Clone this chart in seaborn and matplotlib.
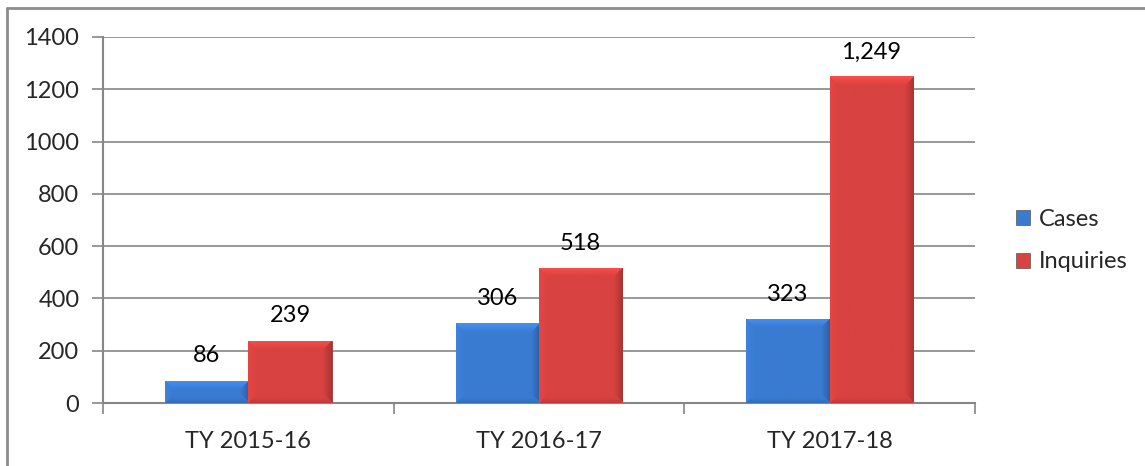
import numpy as np
import pandas as pd
import matplotlib
matplotlib.use("Agg")
import matplotlib.pyplot as plt
import matplotlib.colors as mcolors
import seaborn as sns

# Datos
# -----------------------------------------------------------------------
years = ["TY 2015-16", "TY 2016-17", "TY 2017-18"]
cases = [86, 306, 323]
inquiries = [239, 518, 1249]
series_names = ["Cases", "Inquiries"]
y_ticks = [0, 200, 400, 600, 800, 1000, 1200, 1400]

df = pd.DataFrame({
    "year": years * 2,
    "value": cases + inquiries,
    "series": [series_names[0]] * 3 + [series_names[1]] * 3,
})

sns.set_style("white")
plt.rcParams["font.family"] = ["Lato", "DejaVu Sans"]

W, H = 1145, 466
fig = plt.figure(figsize=(W / 100, H / 100), dpi=100)
ax = fig.add_axes([103 / W, 1 - 403 / H, (975 - 103) / W, (403 - 37) / H])

grid_c = "#868686"
palette = {"Cases": "#3A7BD2", "Inquiries": "#D84240"}
sns.barplot(data=df, x="year", y="value", hue="series", palette=palette,
            width=0.574, saturation=1, ax=ax, zorder=3, legend=True)

ax.set_xlim(-0.5, 2.5)
ax.set_ylim(0, 1400)
fig.canvas.draw()

# bisel tipo Excel: banda clara arriba, lados oscuros
band = 9.0
for patch in ax.patches:
    x0, y0 = patch.get_x(), patch.get_y()
    w, h = patch.get_width(), patch.get_height()
    if h <= 0:
        continue
    p0 = ax.transData.transform((x0, y0))
    p1 = ax.transData.transform((x0 + w, y0 + h))
    nx, ny = max(int(p1[0] - p0[0]), 2), max(int(p1[1] - p0[1]), 2)
    xx, yy = np.meshgrid(np.arange(nx) + 0.5, np.arange(ny) + 0.5)  # yy desde arriba
    d_top, d_left = yy, xx
    d_right, d_bot = nx - xx, ny - yy
    shade = np.ones((ny, nx))
    shade = np.where(d_top < band, 1.0 + 0.18 * (1 - d_top / band), shade)
    m = (d_left < band) & (d_left < d_top) & (d_left < d_bot)
    shade = np.where(m, 1.0 + 0.06 * (1 - d_left / band), shade)
    m = (d_right < band) & (d_right < d_top) & (d_right < d_bot)
    shade = np.where(m, 1.0 - 0.22 * (1 - d_right / band), shade)
    m = (d_bot < band * 0.6) & (d_bot < d_left) & (d_bot < d_right)
    shade = np.where(m, 1.0 - 0.12 * (1 - d_bot / (band * 0.6)), shade)
    base = np.array(mcolors.to_rgb(patch.get_facecolor()))
    img = np.clip(base[None, None, :] * shade[:, :, None], 0, 1)
    im = ax.imshow(img, extent=[x0, x0 + w, y0, y0 + h], origin="upper",
                   aspect="auto", zorder=3.5, interpolation="bilinear")
    im.set_clip_path(patch)
    patch.set_edgecolor(mcolors.to_hex(base * 0.75))
    patch.set_linewidth(0.6)

# etiquetas de valores
for i, (c, q) in enumerate(zip(cases, inquiries)):
    for xpos, v in [(i - 0.574 / 4, c), (i + 0.574 / 4, q)]:
        ax.annotate(f"{v:,}", (xpos, v), xytext=(0, 13), textcoords="offset points",
                    ha="center", va="baseline", fontsize=17, color="black", zorder=5)

ax.set_yticks(y_ticks)
ax.set_yticklabels([str(v) for v in y_ticks], fontsize=17)
ax.yaxis.grid(True, color=grid_c, linewidth=1.2, zorder=0)
ax.set_axisbelow(True)
ax.tick_params(axis="y", length=8, width=1.2, color=grid_c, direction="out", pad=9, left=True)
ax.tick_params(axis="x", which="major", length=0, pad=20, labelsize=17)
ax.set_xticks([-0.5, 0.5, 1.5, 2.5], minor=True)
ax.tick_params(axis="x", which="minor", length=8, width=1.2, color=grid_c, direction="out", bottom=True)
ax.set_xlabel("")
ax.set_ylabel("")

for s in ["top", "right"]:
    ax.spines[s].set_visible(False)
for s in ["left", "bottom"]:
    ax.spines[s].set_color(grid_c)
    ax.spines[s].set_linewidth(1.5)

leg = ax.legend(loc="center left", bbox_to_anchor=(1.023, 0.443), frameon=False,
                fontsize=17, handlelength=0.6, handleheight=0.6, handletextpad=0.35,
                labelspacing=0.9)
for hnd in leg.legend_handles:
    hnd.set_edgecolor("#555555")
    hnd.set_linewidth(0.5)

# borde del gráfico
fig.add_artist(plt.Line2D([7 / W, 7 / W], [0, 1 - 8 / H], color="#8C8C8C", linewidth=2, transform=fig.transFigure))
fig.add_artist(plt.Line2D([7 / W, 1], [1 - 8 / H, 1 - 8 / H], color="#8C8C8C", linewidth=2, transform=fig.transFigure))

fig.savefig("out.png", dpi=100, facecolor="white")
